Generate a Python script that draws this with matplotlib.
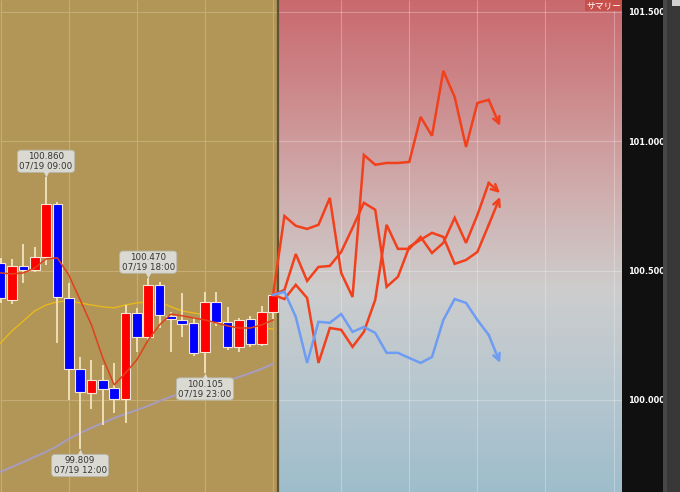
import numpy as np
import matplotlib
matplotlib.use('Agg')
import matplotlib.pyplot as plt
import matplotlib.transforms as mtrans
from matplotlib.patches import Rectangle

# ---------------- data ----------------
opens  = [100.530, 100.387, 100.518, 100.503, 100.553, 100.758, 100.394, 100.120, 100.027, 100.077,
          100.046, 100.004, 100.336, 100.244, 100.445, 100.325, 100.309, 100.298, 100.186, 100.379,
          100.302, 100.205, 100.313, 100.216, 100.340]
highs  = [100.549, 100.545, 100.603, 100.592, 100.860, 100.765, 100.452, 100.166, 100.155, 100.135,
          100.143, 100.367, 100.356, 100.470, 100.456, 100.340, 100.414, 100.321, 100.418, 100.418,
          100.360, 100.317, 100.325, 100.363, 100.418]
lows   = [100.375, 100.371, 100.452, 100.495, 100.522, 100.220, 100.000, 99.809, 99.965, 99.903,
          99.950, 99.911, 100.186, 100.232, 100.278, 100.186, 100.244, 100.170, 100.105, 100.286,
          100.193, 100.186, 100.205, 100.209, 100.313]
closes = [100.394, 100.518, 100.503, 100.553, 100.758, 100.398, 100.120, 100.031, 100.077, 100.043,
          100.004, 100.336, 100.244, 100.445, 100.329, 100.313, 100.294, 100.182, 100.379, 100.302,
          100.205, 100.309, 100.216, 100.340, 100.406]

ma_short = [100.491, 100.487, 100.491, 100.510, 100.545, 100.549, 100.483, 100.387, 100.290, 100.162,
            100.058, 100.104, 100.155, 100.232, 100.290, 100.332, 100.325, 100.317, 100.309, 100.298,
            100.286, 100.278, 100.278, 100.290, 100.309]
ma_mid   = [100.220, 100.267, 100.305, 100.344, 100.367, 100.379, 100.383, 100.375, 100.367, 100.360,
            100.356, 100.367, 100.375, 100.379, 100.379, 100.360, 100.344, 100.336, 100.329, 100.313,
            100.298, 100.290, 100.282, 100.278, 100.274]
ma_long  = [99.722, 99.741, 99.760, 99.780, 99.799, 99.822, 99.849, 99.872, 99.892, 99.911,
            99.930, 99.946, 99.961, 99.977, 99.996, 100.012, 100.027, 100.039, 100.050, 100.062,
            100.073, 100.089, 100.104, 100.120, 100.139]

pred_top  = [100.406, 100.711, 100.673, 100.661, 100.677, 100.781, 100.491, 100.398, 100.947, 100.909,
             100.916, 100.916, 100.920, 101.094, 101.021, 101.272, 101.171, 100.978, 101.148, 101.160,
             101.059]
pred_mid  = [100.406, 100.425, 100.564, 100.460, 100.514, 100.518, 100.572, 100.665, 100.762, 100.735,
             100.437, 100.476, 100.592, 100.619, 100.646, 100.630, 100.526, 100.541, 100.572, 100.677,
             100.785]
pred_low  = [100.406, 100.390, 100.445, 100.394, 100.143, 100.278, 100.271, 100.205, 100.263, 100.387,
             100.677, 100.584, 100.584, 100.630, 100.568, 100.607, 100.704, 100.607, 100.715, 100.839,
             100.800]
pred_blue = [100.406, 100.418, 100.321, 100.143, 100.302, 100.298, 100.332, 100.263, 100.282, 100.259,
             100.182, 100.182, 100.162, 100.143, 100.166, 100.309, 100.390, 100.375, 100.309, 100.251,
             100.143]

ytick_values = [100.0, 100.5, 101.0, 101.5]
ytick_labels = ['100.000', '100.500', '101.000', '101.500']

# (candle index, price, time label, side)
callouts = [(4, 100.860, '07/19 09:00', 'top'),
            (13, 100.470, '07/19 18:00', 'top'),
            (7, 99.809, '07/19 12:00', 'bottom'),
            (18, 100.105, '07/19 23:00', 'bottom')]
summary_label = 'サマリー'

# ---------------- figure ----------------
W, H = 680, 492
fig = plt.figure(figsize=(W / 100, H / 100), dpi=100, facecolor='#101010')
ax = fig.add_axes([0, 0, 622 / W, 1])

x0, x1 = -0.057, 54.74
y0, y1 = 99.644, 101.546
split = 24.44
ax.set_xlim(x0, x1)
ax.set_ylim(y0, y1)
for s in ax.spines.values():
    s.set_visible(False)
ax.set_xticks([])

# backgrounds
ax.add_patch(Rectangle((x0, y0), split - x0, y1 - y0, facecolor='#B19658', edgecolor='none', zorder=0))
stops_y = np.array([0, 100, 200, 290, 400, 492]) / 492.0
stops_c = np.array([(201, 105, 110), (205, 140, 142), (208, 176, 176), (205, 205, 205),
                    (180, 198, 207), (158, 189, 203)]) / 255.0
t = np.linspace(0, 1, 400)
grad = np.stack([np.interp(t, stops_y, stops_c[:, k]) for k in range(3)], axis=-1)[:, None, :]
ax.imshow(grad, extent=[split, x1, y0, y1], origin='upper', aspect='auto',
          interpolation='bilinear', zorder=0)

# grid
grid_x_left = [0, 6, 12, 18, 24]
grid_x_right = [30, 36, 42, 48, 54]
ax.vlines(grid_x_left, y0, y1, color='#C4AC74', lw=0.8, zorder=1)
ax.vlines(grid_x_right, y0, y1, color='white', alpha=0.28, lw=0.8, zorder=1)
ax.hlines(ytick_values, x0, split, color='#C4AC74', lw=0.8, zorder=1)
ax.hlines(ytick_values, split, x1, color='white', alpha=0.28, lw=0.8, zorder=1)
ax.axvline(split, color='#5E5236', lw=1.6, zorder=2)

# moving averages
idx = np.arange(len(opens))
ax.plot(idx, ma_long, color='#A89CC0', lw=1.4, zorder=3)
ax.plot(idx, ma_mid, color='#E8B81C', lw=1.0, zorder=3)

# candles
o = np.array(opens); c = np.array(closes)
up = c >= o
ax.vlines(idx, lows, highs, color='#F2E4BC', lw=1.3, zorder=4)
ax.bar(idx, np.maximum(np.abs(c - o), 0.004), bottom=np.minimum(o, c), width=0.85,
       color=np.where(up, '#FF0000', '#0000FF'), edgecolor='#F6E6D6', linewidth=0.8, zorder=5)
ax.plot(idx, ma_short, color='#E0401A', lw=1.1, zorder=6)

# forecasts
pidx = np.arange(24, 24 + len(pred_top))
for series, col in [(pred_top, '#F2401C'), (pred_mid, '#F2401C'), (pred_low, '#F2401C'),
                    (pred_blue, '#6E9CF2')]:
    ax.plot(pidx[:-1], series[:-1], color=col, lw=1.8, zorder=7, solid_joinstyle='miter')
    ax.annotate('', xy=(pidx[-1], series[-1]), xytext=(pidx[-2], series[-2]),
                arrowprops=dict(arrowstyle='->', color=col, lw=1.8, mutation_scale=12,
                                shrinkA=0, shrinkB=0), zorder=7)

# callouts
for i, price, tlabel, side in callouts:
    txt = f'{price:.3f}\n{tlabel}'
    if side == 'top':
        off, va, mk, moff = 7, 'bottom', 'v', 3
    else:
        off, va, mk, moff = -7, 'top', '^', -3
    ax.annotate(txt, xy=(i, price), xytext=(0, off * 0.72), textcoords='offset points',
                ha='center', va=va, fontsize=6.3, color='#333333', linespacing=1.05,
                bbox=dict(boxstyle='round,pad=0.22,rounding_size=0.4', fc='#DADAD2', ec='#B8B8AE', lw=0.6),
                zorder=9)
    tr = mtrans.offset_copy(ax.transData, fig=fig, x=0, y=moff, units='dots')
    ax.plot([i], [price], marker=mk, ms=4, color='#DADAD2', mec='none', transform=tr, zorder=9)

# y axis labels on the right
ax.yaxis.tick_right()
ax.set_yticks(ytick_values)
ax.set_yticklabels(ytick_labels)
ax.tick_params(axis='y', length=0, pad=4, labelcolor='white', labelsize=5.9)
for lab in ax.get_yticklabels():
    lab.set_fontweight('bold')

# summary tag
fig.patches.append(Rectangle((585 / W, 1 - 11 / H), 37 / W, 11 / H, transform=fig.transFigure,
                             facecolor='#C7504C', edgecolor='none', zorder=10))
fig.text(603.5 / W, 1 - 5.5 / H, summary_label, ha='center', va='center', fontsize=6.3, color='white',
         family=['Noto Sans CJK JP', 'DejaVu Sans'], zorder=11)

# scrollbar
fig.patches.append(Rectangle((663 / W, 0), 17 / W, 1, transform=fig.transFigure,
                             facecolor='#383838', edgecolor='none', zorder=1))
fig.patches.append(Rectangle((663 / W, 0), 4 / W, 1, transform=fig.transFigure,
                             facecolor='#474747', edgecolor='none', zorder=1))
fig.patches.append(Rectangle((672 / W, 1 - 6 / H), 8 / W, 6 / H, transform=fig.transFigure,
                             facecolor='#D0D0D0', edgecolor='none', zorder=2))

fig.savefig('out.png', dpi=100, facecolor=fig.get_facecolor())
